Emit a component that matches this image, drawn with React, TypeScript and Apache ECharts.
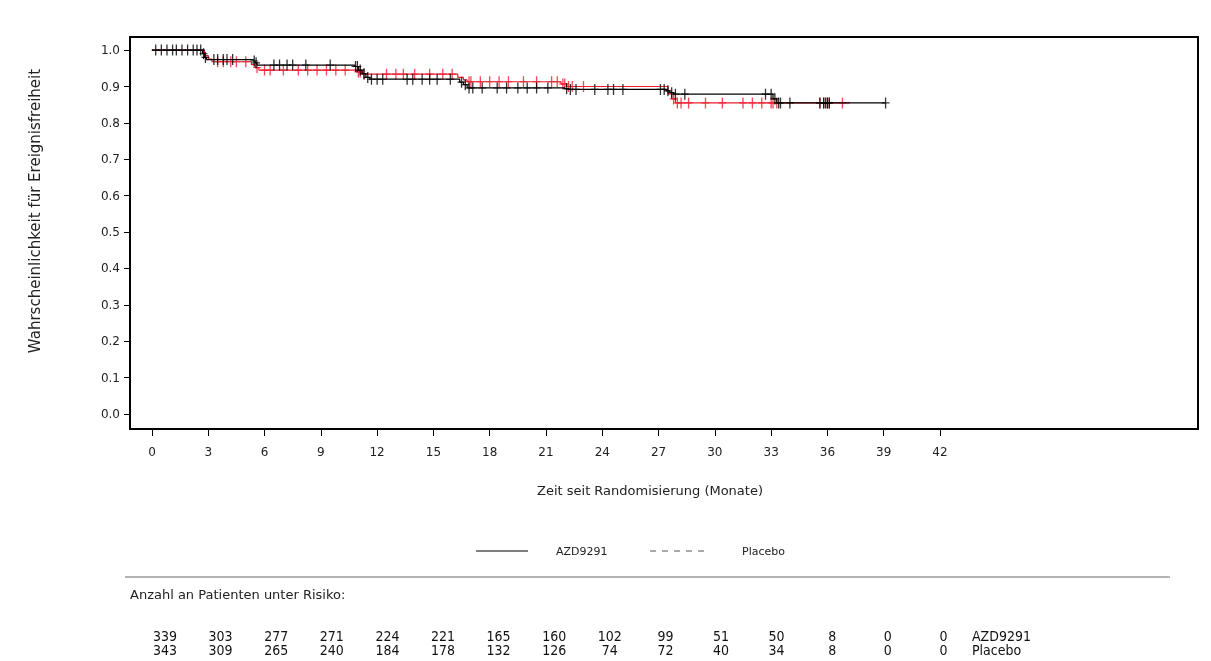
import React, { useEffect, useRef } from 'react';
import * as echarts from 'echarts';

// Kaplan-Meier step data (months, survival probability)
const azdTimes = [0, 2.7, 2.8, 2.9, 5.4, 5.5, 5.6, 10.8, 11.0, 11.2, 11.4, 11.6, 16.4, 16.6, 16.8, 22.0, 22.2, 27.4, 27.6, 27.8, 33.1, 33.3];
const azdSurv = [1.0, 0.99, 0.98, 0.974, 0.97, 0.965, 0.959, 0.955, 0.945, 0.935, 0.925, 0.92, 0.912, 0.905, 0.896, 0.894, 0.892, 0.888, 0.883, 0.879, 0.866, 0.855];
const azdEnd = 39.1;
const azdCensor = [0.2, 0.5, 0.8, 1.1, 1.3, 1.6, 1.9, 2.2, 2.4, 2.6, 2.75, 2.85, 3.3, 3.5, 3.8, 4.0, 4.3, 5.45, 5.55, 6.5, 6.8, 7.2, 7.5, 8.2, 9.5, 10.85, 10.95, 11.1, 11.3, 11.5, 11.7, 12.0, 12.3, 13.6, 13.9, 14.4, 14.8, 15.2, 15.9, 16.5, 16.7, 16.9, 17.1, 17.6, 18.4, 18.9, 19.5, 20.0, 20.5, 21.1, 22.1, 22.3, 22.6, 23.6, 24.3, 24.6, 25.1, 27.1, 27.3, 27.5, 27.7, 27.9, 28.4, 32.7, 33.0, 33.2, 33.4, 33.5, 34.0, 35.6, 35.8, 35.9, 36.0, 36.1, 39.1];

const plaTimes = [0, 2.8, 3.0, 3.2, 5.3, 5.5, 5.7, 10.9, 11.2, 16.3, 16.6, 16.8, 21.8, 22.1, 27.5, 27.7, 27.9];
const plaSurv = [1.0, 0.985, 0.975, 0.968, 0.96, 0.952, 0.945, 0.94, 0.934, 0.925, 0.918, 0.913, 0.907, 0.9, 0.88, 0.866, 0.855];
const plaEnd = 37.2;
const plaCensor = [3.5, 3.8, 4.2, 4.5, 5.0, 5.6, 6.0, 6.3, 7.0, 7.8, 8.3, 8.8, 9.3, 9.8, 10.3, 11.0, 11.1, 11.3, 12.5, 13.0, 13.4, 14.0, 14.8, 15.5, 16.0, 16.9, 17.0, 17.5, 18.0, 18.5, 19.0, 19.8, 20.5, 21.3, 21.6, 21.9, 22.0, 22.2, 22.4, 23.0, 27.8, 28.0, 28.2, 28.6, 29.5, 30.4, 31.5, 32.0, 32.5, 33.0, 33.1, 33.3, 35.6, 35.8, 36.0, 36.1, 36.8];

const xTicks = [0, 3, 6, 9, 12, 15, 18, 21, 24, 27, 30, 33, 36, 39, 42];
const yTicks = [0, 0.1, 0.2, 0.3, 0.4, 0.5, 0.6, 0.7, 0.8, 0.9, 1.0];

const riskAzd = [339, 303, 277, 271, 224, 221, 165, 160, 102, 99, 51, 50, 8, 0, 0];
const riskPla = [343, 309, 265, 240, 184, 178, 132, 126, 74, 72, 40, 34, 8, 0, 0];

const FONT = 'DejaVu Sans';
const COND = '"DejaVu Sans Condensed", "DejaVu Sans"';

function survAt(times: number[], surv: number[], t: number) {
  let v = surv[0];
  for (let i = 0; i < times.length; i++) if (times[i] <= t) v = surv[i];
  return v;
}
function stepData(times: number[], surv: number[], end: number) {
  const d = times.map((t, i) => [t, surv[i]]);
  d.push([end, surv[surv.length - 1]]);
  return d;
}

const PLUS = 'path://M-1.3,-10H1.3V-1H8V1H1.3V10H-1.3V1H-8V-1H-1.3Z';
const RED = '#ee1c2e';

export default function App() {
  const ref = useRef<HTMLDivElement>(null);
  useEffect(() => {
    const chart = echarts.init(ref.current!, null, { renderer: 'svg' });
    const colX = (i: number) => 165 + i * 55.6;
    const riskTexts: any[] = [];
    riskAzd.forEach((v, i) => {
      riskTexts.push({ type: 'text', x: colX(i), y: 636, style: { text: String(v), font: `14px ${COND}`, fill: '#111', align: 'center', verticalAlign: 'middle' } });
    });
    riskPla.forEach((v, i) => {
      riskTexts.push({ type: 'text', x: colX(i), y: 650, style: { text: String(v), font: `14px ${COND}`, fill: '#111', align: 'center', verticalAlign: 'middle' } });
    });
    chart.setOption({
      animation: false,
      grid: { left: 130, right: 13, top: 37, bottom: 232, show: true, borderColor: '#000', borderWidth: 2, backgroundColor: 'transparent' },
      xAxis: {
        type: 'value', min: -1.17, max: 55.75,
        axisLine: { show: false, onZero: false },
        splitLine: { show: false },
        axisTick: { show: true, customValues: xTicks, length: 7, lineStyle: { color: '#000', width: 1 } },
        axisLabel: { customValues: xTicks, margin: 17, fontFamily: FONT, fontSize: 12, color: '#222' },
      },
      yAxis: {
        type: 'value', min: -0.041, max: 1.036,
        axisLine: { show: false, onZero: false },
        splitLine: { show: false },
        axisTick: { show: true, customValues: yTicks, length: 6, lineStyle: { color: '#000', width: 1 } },
        axisLabel: { customValues: yTicks, margin: 10, fontFamily: FONT, fontSize: 12, color: '#222', formatter: (v: number) => v.toFixed(1) },
      },
      series: [
        { type: 'line', name: 'Placebo', step: 'end', data: stepData(plaTimes, plaSurv, plaEnd), showSymbol: false, lineStyle: { color: RED, width: 1.2 }, z: 2 },
        { type: 'scatter', data: plaCensor.map(t => [t, survAt(plaTimes, plaSurv, t)]), symbol: PLUS, symbolSize: [8, 11], itemStyle: { color: RED }, z: 3 },
        { type: 'line', name: 'AZD9291', step: 'end', data: stepData(azdTimes, azdSurv, azdEnd), showSymbol: false, lineStyle: { color: '#000', width: 1.2 }, z: 4 },
        { type: 'scatter', data: azdCensor.map(t => [t, survAt(azdTimes, azdSurv, t)]), symbol: PLUS, symbolSize: [8, 11], itemStyle: { color: '#000' }, z: 5 },
      ],
      graphic: [
        { type: 'text', x: 650, y: 490, style: { text: 'Zeit seit Randomisierung (Monate)', font: `13px ${FONT}`, fill: '#222', align: 'center', verticalAlign: 'middle' } },
        { type: 'text', x: 35, y: 211, rotation: Math.PI / 2, style: { text: 'Wahrscheinlichkeit für Ereignisfreiheit', font: `15px ${FONT}`, fill: '#222', align: 'center', verticalAlign: 'middle' } },
        { type: 'line', shape: { x1: 476, y1: 551, x2: 528, y2: 551 }, style: { stroke: '#000', lineWidth: 1.2 } },
        { type: 'text', x: 556, y: 551, style: { text: 'AZD9291', font: `11px ${FONT}`, fill: '#222', verticalAlign: 'middle' } },
        { type: 'line', shape: { x1: 650, y1: 551, x2: 706, y2: 551 }, style: { stroke: '#555', lineWidth: 1, lineDash: [6, 6] } },
        { type: 'text', x: 742, y: 551, style: { text: 'Placebo', font: `11px ${FONT}`, fill: '#222', verticalAlign: 'middle' } },
        { type: 'line', shape: { x1: 125, y1: 577, x2: 1170, y2: 577 }, style: { stroke: '#666', lineWidth: 1 } },
        { type: 'text', x: 130, y: 594, style: { text: 'Anzahl an Patienten unter Risiko:', font: `13px ${FONT}`, fill: '#222', verticalAlign: 'middle' } },
        { type: 'text', x: 972, y: 636, style: { text: 'AZD9291', font: `14px ${COND}`, fill: '#111', verticalAlign: 'middle' } },
        { type: 'text', x: 972, y: 650, style: { text: 'Placebo', font: `14px ${COND}`, fill: '#111', verticalAlign: 'middle' } },
        ...riskTexts,
      ],
    });
    return () => chart.dispose();
  }, []);
  return <div ref={ref} style={{ position: 'fixed', left: 0, top: 0, width: 1211, height: 661 }} />;
}
